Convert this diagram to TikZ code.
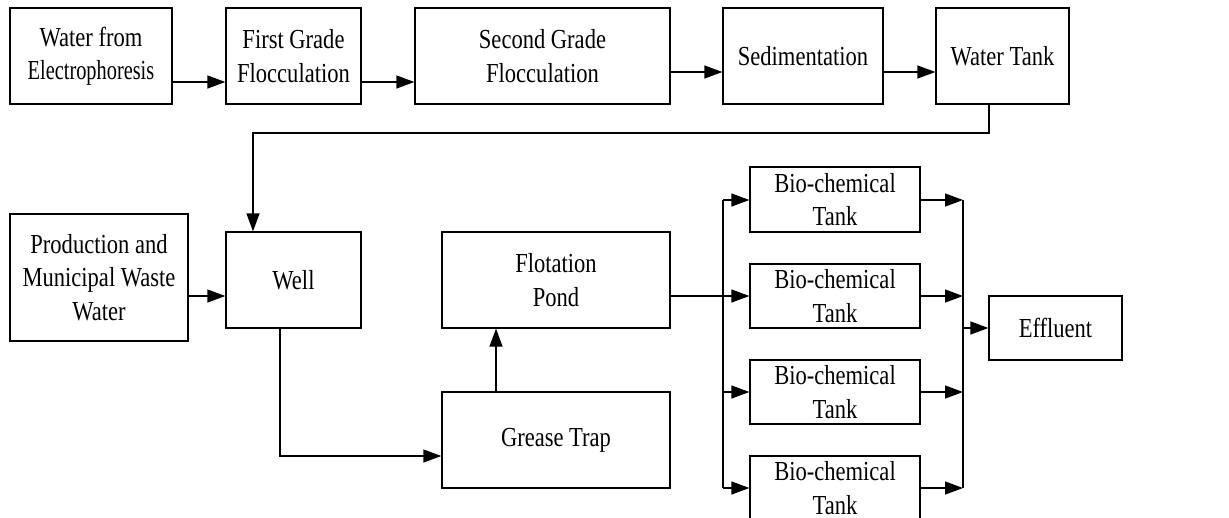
\documentclass[tikz,border=0pt]{standalone}
\usepackage{fontspec}
\setmainfont{Liberation Serif}
\newfontfamily\labelfont[FakeStretch=0.82]{Liberation Serif}
\newfontfamily\narrowfont[FakeStretch=0.74]{Liberation Serif}
\usetikzlibrary{arrows.meta}
\tikzset{
  box/.style={draw, line width=1.3pt, rectangle, inner sep=0pt, align=center,
    font=\labelfont\fontsize{27.5}{33.5}\selectfont},
  flow/.style={line width=1.3pt, -{Triangle[length=18pt,width=13pt]}},
  wire/.style={line width=1.3pt},
}
\begin{document}
\begin{tikzpicture}[x=1pt, y=-1pt]
\clip (0,0) rectangle (1229,517);
\fill[white] (0,0) rectangle (1229,517);

% top row
\node[box, minimum width=162pt, minimum height=96pt] (src) at (91,56)
  {Water from\\{\narrowfont Electrophoresis}};
\node[box, minimum width=135pt, minimum height=96pt] (floc1) at (293.5,56)
  {First Grade\\Flocculation};
\node[box, minimum width=255pt, minimum height=96pt] (floc2) at (542.5,56)
  {Second Grade\\Flocculation};
\node[box, minimum width=160pt, minimum height=96pt] (sed) at (803,56)
  {Sedimentation};
\node[box, minimum width=133pt, minimum height=96pt] (tank) at (1002.5,56)
  {Water Tank};

% middle and lower part
\node[box, minimum width=178pt, minimum height=127pt] (prod) at (99,277.5)
  {Production and\\Municipal Waste\\Water};
\node[box, minimum width=135pt, minimum height=96pt] (well) at (293.5,280)
  {Well};
\node[box, minimum width=228pt, minimum height=96pt] (flot) at (556,280)
  {Flotation\\Pond};
\node[box, minimum width=228pt, minimum height=96pt] (grease) at (556,440)
  {Grease Trap};

% parallel bio-chemical tanks
\node[box, minimum width=170pt, minimum height=65pt] (bio1) at (835,199.5)
  {Bio-chemical\\Tank};
\node[box, minimum width=170pt, minimum height=64pt] (bio2) at (835,296)
  {Bio-chemical\\Tank};
\node[box, minimum width=170pt, minimum height=64pt] (bio3) at (835,392)
  {Bio-chemical\\Tank};
\node[box, minimum width=170pt, minimum height=64pt] (bio4) at (835,488)
  {Bio-chemical\\Tank};
\node[box, minimum width=133pt, minimum height=64pt] (eff) at (1055.5,328)
  {Effluent};

% junction points
\coordinate (ret) at (989,133);
\coordinate (split) at (723,296);
\coordinate (splitTop) at (723,200);
\coordinate (splitBot) at (723,488);
\coordinate (merge) at (963,328);
\coordinate (mergeTop) at (963,200);
\coordinate (mergeBot) at (963,488);

% top row connectors
\draw[flow] (src.east |- 0,82) -- (floc1.west |- 0,82);
\draw[flow] (floc1.east |- 0,82) -- (floc2.west |- 0,82);
\draw[flow] (floc2.east |- 0,72) -- (sed.west |- 0,72);
\draw[flow] (sed.east |- 0,72) -- (tank.west |- 0,72);

% return line from the water tank to the well
\draw[flow] (tank.south -| ret) -- (ret) -| (well.north -| 253,0);

% into and out of the well
\draw[flow] (prod.east |- 0,296) -- (well.west |- 0,296);
\draw[flow] (well.south -| 280,0) |- (grease.west |- 0,456);
\draw[flow] (grease.north -| 496,0) -- (flot.south -| 496,0);

% distribution to the tanks
\draw[wire] (flot.east |- split) -- (split);
\draw[wire] (splitTop) -- (splitBot);
\draw[flow] (splitTop) -- (bio1.west |- splitTop);
\draw[flow] (split) -- (bio2.west);
\draw[flow] (split |- bio3.west) -- (bio3.west);
\draw[flow] (splitBot) -- (bio4.west |- splitBot);

% collection to the effluent
\draw[flow] (bio1.east |- mergeTop) -- (mergeTop);
\draw[flow] (bio2.east) -- (merge |- bio2.east);
\draw[flow] (bio3.east) -- (merge |- bio3.east);
\draw[flow] (bio4.east |- mergeBot) -- (mergeBot);
\draw[wire] (mergeTop) -- (mergeBot);
\draw[flow] (merge) -- (eff.west);
\end{tikzpicture}
\end{document}
